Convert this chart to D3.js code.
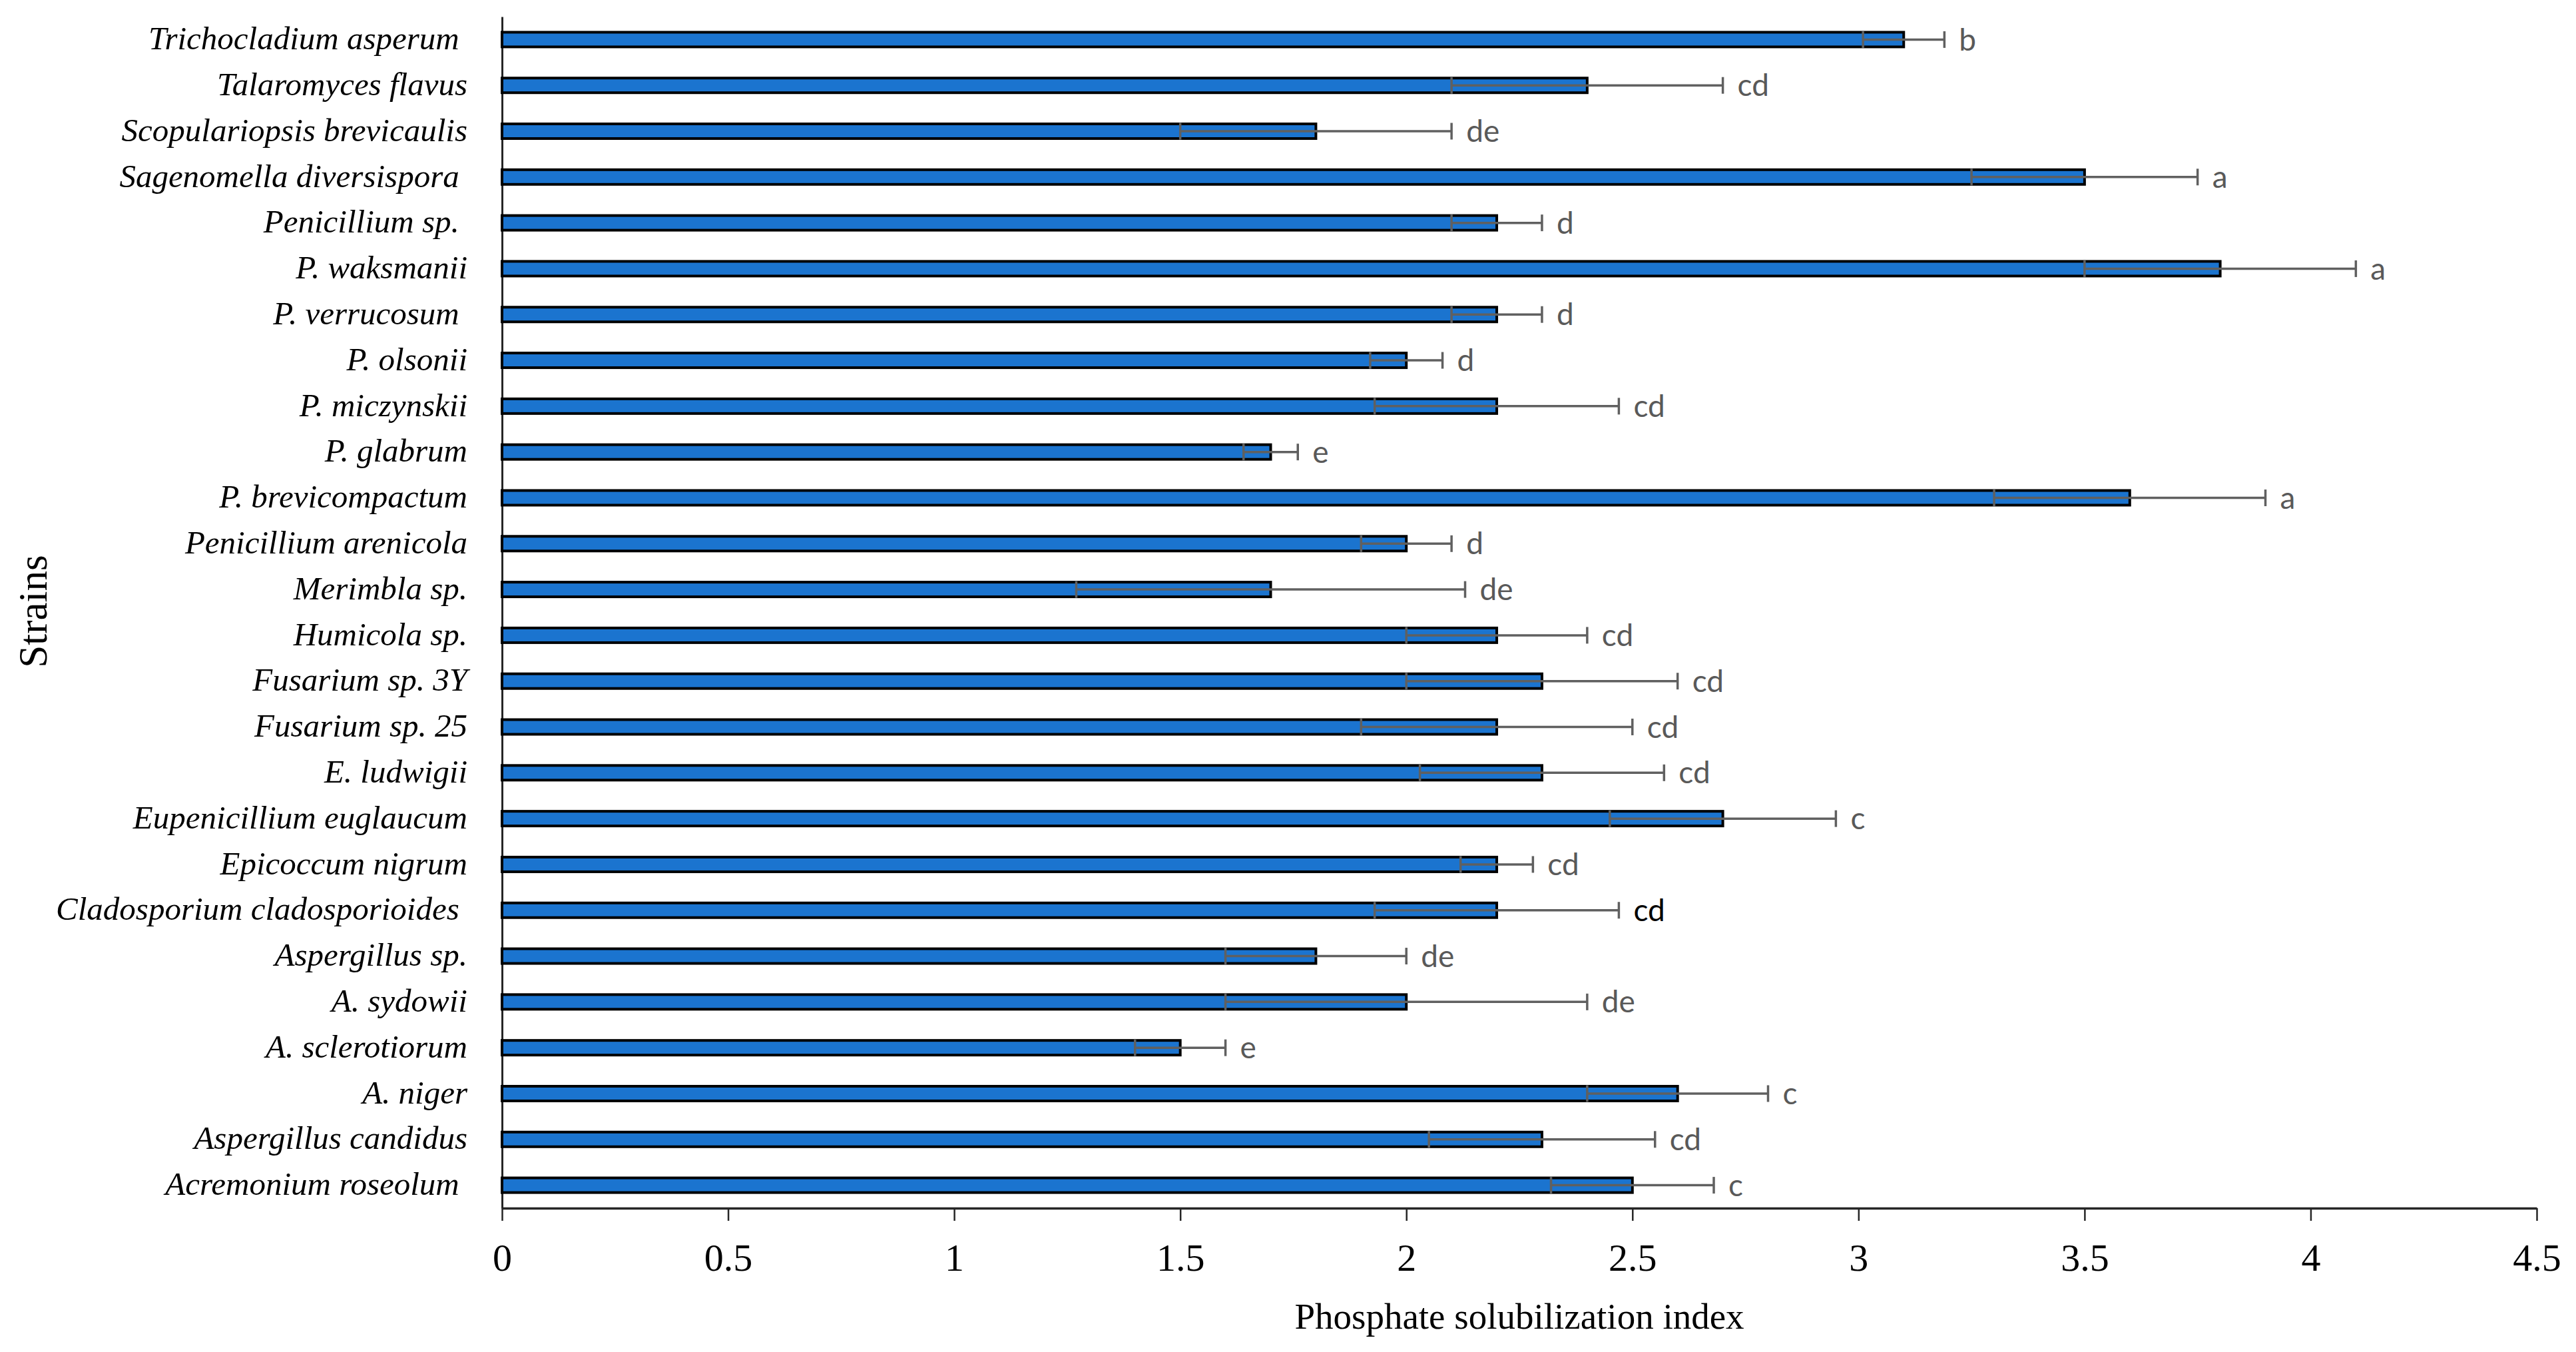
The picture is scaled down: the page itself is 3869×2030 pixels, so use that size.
<!DOCTYPE html>
<html>
<head>
<meta charset="utf-8">
<script src="https://cdn.jsdelivr.net/npm/d3@7"></script>
<style>
  body { margin: 0; background: #fff; }
  svg { display: block; }
</style>
</head>
<body>
<svg></svg>
<script>
// strains listed top to bottom, as they appear on the chart
let strains = [
  'Trichocladium asperum ', 'Talaromyces flavus', 'Scopulariopsis brevicaulis',
  'Sagenomella diversispora ', 'Penicillium sp. ', 'P. waksmanii', 'P. verrucosum ',
  'P. olsonii', 'P. miczynskii', 'P. glabrum', 'P. brevicompactum',
  'Penicillium arenicola', 'Merimbla sp.', 'Humicola sp.', 'Fusarium sp. 3Y',
  'Fusarium sp. 25', 'E. ludwigii', 'Eupenicillium euglaucum', 'Epicoccum nigrum',
  'Cladosporium cladosporioides ', 'Aspergillus sp.', 'A. sydowii', 'A. sclerotiorum',
  'A. niger', 'Aspergillus candidus', 'Acremonium roseolum '
];
let means = [3.1, 2.4, 1.8, 3.5, 2.2, 3.8, 2.2, 2.0, 2.2, 1.7, 3.6, 2.0, 1.7,
  2.2, 2.3, 2.2, 2.3, 2.7, 2.2, 2.2, 1.8, 2.0, 1.5, 2.6, 2.3, 2.5];
let errors = [0.09, 0.3, 0.3, 0.25, 0.1, 0.3, 0.1, 0.08, 0.27, 0.06, 0.3, 0.1, 0.43,
  0.2, 0.3, 0.3, 0.27, 0.25, 0.08, 0.27, 0.2, 0.4, 0.1, 0.2, 0.25, 0.18];
let letters = ['b', 'cd', 'de', 'a', 'd', 'a', 'd', 'd', 'cd', 'e', 'a', 'd', 'de',
  'cd', 'cd', 'cd', 'cd', 'c', 'cd', 'cd', 'de', 'de', 'e', 'c', 'cd', 'c'];
let xTicks = [0, 0.5, 1, 1.5, 2, 2.5, 3, 3.5, 4, 4.5];

let rows = strains.map((name, i) => ({
  name,
  mean: means[i],
  err: errors[i],
  letter: letters[i],
}));

let width = 3869;
let height = 2030;
let plotLeft = 754;
let plotRight = 3810;
let plotTop = 25;
let plotBottom = 1814;

let svg = d3.select('svg').attr('width', width).attr('height', height);

let x = d3.scaleLinear().domain([0, 4.5]).range([plotLeft, plotRight]);
let y = d3.scaleBand().domain(strains).range([plotTop, plotBottom]);
let barH = 22;

// x axis
let xAxis = svg
  .append('g')
  .attr('transform', `translate(0,${plotBottom})`)
  .call(
    d3.axisBottom(x)
      .tickValues(xTicks)
      .tickFormat(d3.format(''))
      .tickSize(19)
      .tickSizeOuter(0)
      .tickPadding(34)
  );
xAxis.select('.domain').attr('stroke', '#262626').attr('stroke-width', 3.5);
xAxis.selectAll('.tick line').attr('stroke', '#262626').attr('stroke-width', 2.5);
xAxis
  .selectAll('.tick text')
  .attr('fill', '#000')
  .style('font-family', '"Liberation Serif", serif')
  .style('font-size', '58px');

// y axis
let yAxis = svg
  .append('g')
  .attr('transform', `translate(${plotLeft},0)`)
  .call(d3.axisLeft(y).tickSize(0).tickPadding(52));
yAxis.select('.domain').attr('stroke', '#262626').attr('stroke-width', 3);
yAxis
  .selectAll('.tick text')
  .attr('fill', '#000')
  .attr('dy', '0.3em')
  .style('white-space', 'pre')
  .style('font-family', '"Liberation Serif", serif')
  .style('font-style', 'italic')
  .style('font-size', '49px');

// bars
svg
  .append('g')
  .selectAll('rect')
  .data(rows)
  .join('rect')
  .attr('x', x(0))
  .attr('y', (d) => y(d.name) + y.bandwidth() / 2 - barH / 2)
  .attr('width', (d) => x(d.mean) - x(0))
  .attr('height', barH)
  .attr('fill', '#1b74cf')
  .attr('stroke', '#000')
  .attr('stroke-width', 4);

// error bars
let errGp = svg.append('g').attr('stroke', '#606060').attr('stroke-width', 3.5);
let capH = 25;
rows.forEach((d) => {
  let cy = y(d.name) + y.bandwidth() / 2;
  let x1 = x(d.mean - d.err);
  let x2 = x(d.mean + d.err);
  errGp.append('line').attr('x1', x1).attr('x2', x2).attr('y1', cy).attr('y2', cy);
  errGp.append('line').attr('x1', x1).attr('x2', x1).attr('y1', cy - capH / 2).attr('y2', cy + capH / 2);
  errGp.append('line').attr('x1', x2).attr('x2', x2).attr('y1', cy - capH / 2).attr('y2', cy + capH / 2);
});

// significance letters
svg
  .append('g')
  .selectAll('text')
  .data(rows)
  .join('text')
  .attr('x', (d) => x(d.mean + d.err) + 22)
  .attr('y', (d) => y(d.name) + y.bandwidth() / 2)
  .attr('dy', '0.35em')
  .attr('fill', (d) => (d.name.startsWith('Cladosporium') ? '#000' : '#595959'))
  .style('font-family', 'Lato, sans-serif')
  .style('font-size', '46px')
  .text((d) => d.letter);

// axis titles
svg
  .append('text')
  .attr('x', (plotLeft + plotRight) / 2)
  .attr('y', 1995)
  .attr('text-anchor', 'middle')
  .style('font-family', '"Liberation Serif", serif')
  .style('font-size', '55px')
  .text('Phosphate solubilization index');

svg
  .append('text')
  .attr('transform', 'translate(70,918) rotate(-90)')
  .attr('text-anchor', 'middle')
  .style('font-family', '"Liberation Serif", serif')
  .style('font-size', '61px')
  .text('Strains');
</script>
</body>
</html>
